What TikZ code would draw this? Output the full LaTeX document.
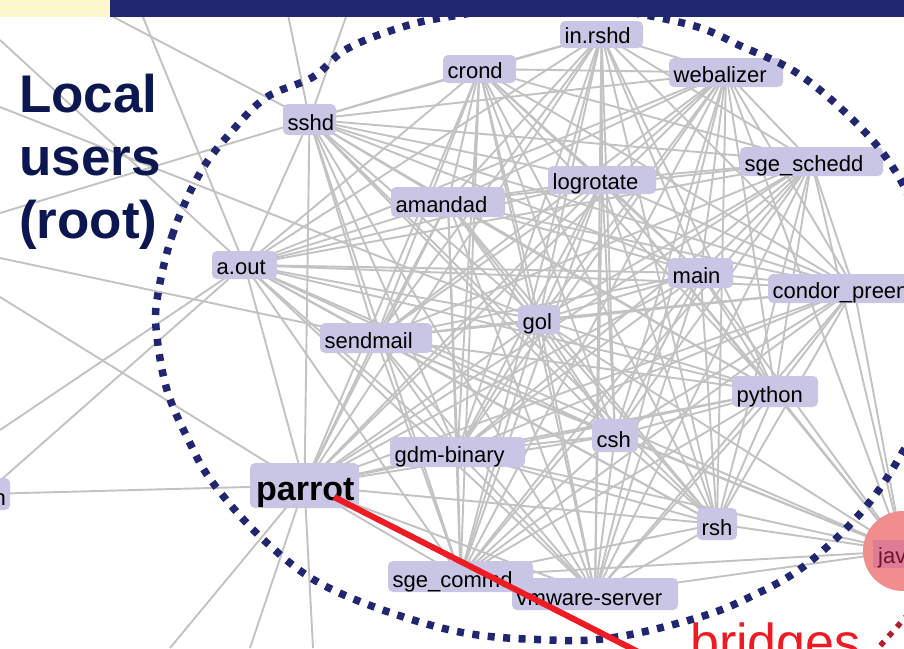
\documentclass[tikz,border=0pt]{standalone}
\usepackage{fontspec}
\setmainfont{Liberation Sans}
\pgfdeclarelayer{background}
\pgfsetlayers{background,main}
\definecolor{procfill}{RGB}{200,198,228}
\definecolor{edgegray}{RGB}{194,194,194}
\definecolor{navy}{RGB}{33,38,112}
\definecolor{titleblue}{RGB}{12,22,80}
\definecolor{bridgered}{RGB}{237,28,36}
\definecolor{javafill}{RGB}{240,142,142}
\definecolor{javalabel}{RGB}{222,124,152}
\definecolor{javatext}{RGB}{110,20,40}
\definecolor{ringred}{RGB}{180,30,40}
\definecolor{paleyellow}{RGB}{253,246,214}

\tikzset{
  procbox/.style={fill=procfill, draw=none, rounded corners=5pt, inner sep=0pt},
  proclabel/.style={anchor=base west, inner sep=0pt, text=black,
    font=\fontsize{22}{26}\selectfont},
  edge/.style={edgegray, line width=1.9pt},
  dotring/.style={navy, line width=7.5pt, dash pattern=on 7pt off 8.5pt},
  bridgeline/.style={bridgered, line width=6pt},
}

% box from (x1,y1) to (x2,y2) with its label set on a common baseline
\newcommand{\procnode}[6]{%
  \node[procbox, minimum width={#4-#2}, minimum height={#5-#3}] (#1)
    at ({(#2+#4)/2},{(#3+#5)/2}) {};
  \node[proclabel] (#1-label) at ({#2+4.5},{#5-5}) {#6};
}

\begin{document}
\begin{tikzpicture}[x=1pt,y=-1pt]
\useasboundingbox (0,0) rectangle (904,648);
\clip (0,0) rectangle (904,648);

% process nodes
\procnode{inrshd}{560}{21}{643}{48}{in.rshd}
\procnode{crond}{443}{55}{516}{83}{crond}
\procnode{webal}{669}{58}{783}{87}{webalizer}
\procnode{sshd}{283}{104}{336}{135}{sshd}
\procnode{schedd}{740}{147}{883}{176}{sge\_schedd}
\procnode{logrot}{548}{166}{656}{194}{logrotate}
\procnode{amanda}{391}{187}{505}{217}{amandad}
\procnode{aout}{212}{251}{277}{279}{a.out}
\procnode{main}{668}{258}{733}{288}{main}
\procnode{condor}{768}{274}{940}{303}{condor\_preen}
\procnode{gol}{518}{305}{560}{334}{gol}
\procnode{sendm}{320}{323}{432}{353}{sendmail}
\procnode{python}{732}{376}{818}{407}{python}
\procnode{csh}{592}{419}{638}{452}{csh}
\procnode{gdm}{390}{437}{525}{467}{gdm-binary}
\procnode{rsh}{697}{508}{737}{540}{rsh}
\procnode{commd}{388}{561}{533}{592}{sge\_commd}
\procnode{vmware}{512}{578}{678}{610}{vmware-server}

% a process just past the left edge
\node[procbox, minimum width=50, minimum height=32] (hnode) at (-15,494) {};
\node[anchor=base east, inner sep=0pt, text=black, font=\fontsize{22}{26}\selectfont]
  (hnode-label) at (6,505) {ssh};

% parrot, set larger and bold
\node[procbox, minimum width=109, minimum height=45] (parrot) at (304.5,485.5) {};
\node[anchor=base west, inner sep=0pt, font=\bfseries\fontsize{34}{40}\selectfont]
  (parrot-label) at (256,500) {parrot};

% java, the bridging process
\node[circle, fill=javafill, minimum size=80, inner sep=0pt] (java) at (903,551) {};
\node[fill=javalabel, anchor=west, minimum width=50, minimum height=28, inner sep=0pt]
  (java-box) at (873,554) {};
\node[anchor=base west, inner sep=0pt, text=javatext, font=\fontsize{22}{26}\selectfont]
  (java-label) at (878,563) {java};

% loose ends of edges leaving the view
\coordinate (e1) at (100,10);
\coordinate (e2) at (285,0);
\coordinate (e3) at (352,0);
\coordinate (e4) at (0,213);
\coordinate (e5) at (136,0);
\coordinate (e6) at (0,40);
\coordinate (e7) at (0,430);
\coordinate (e8) at (0,297);
\coordinate (e9) at (170,648);
\coordinate (e10) at (250,648);
\coordinate (e11) at (313,648);
\coordinate (e12) at (0,258);
\coordinate (e13) at (0,107);

\begin{pgfonlayer}{background}
  \foreach [count=\i] \a in {inrshd,crond,webal,sshd,schedd,logrot,amanda,aout,main,condor,gol,sendm,python,csh,gdm,parrot,rsh,commd,vmware}{
    \foreach [count=\j] \b in {inrshd,crond,webal,sshd,schedd,logrot,amanda,aout,main,condor,gol,sendm,python,csh,gdm,parrot,rsh,commd,vmware}{
      \ifnum\j>\i \draw[edge] (\a.center) -- (\b.center); \fi
    }
  }
  \foreach \a in {rsh,python,csh,main,condor,schedd,gdm,vmware,commd,gol,logrot,webal,sendm,aout}
    \draw[edge] (java.center) -- (\a.center);
  \foreach \n/\e in {sshd/e1,sshd/e2,sshd/e3,sshd/e4,aout/e5,aout/e6,aout/e7,parrot/e8,
                     parrot/e9,parrot/e10,parrot/e11,sendm/e12,gol/e13,hnode/aout,hnode/parrot}
    \draw[edge] (\n.center) -- (\e);
\end{pgfonlayer}

% dotted ring round the local users
\draw[dotring] plot[smooth cycle, tension=0.6] coordinates {
  (157,300) (172,236) (200,173) (233,130) (267,97) (313,77) (345,50) (393,30)
  (447,17) (560,4) (683,23) (743,47) (797,73) (850,117) (890,163) (915,215)
  (935,310) (920,410) (895,465) (857,517) (803,567) (750,597) (700,617)
  (617,637) (550,640) (450,630) (333,590) (267,543) (213,483) (187,437)
  (167,390) (157,337)};

% second ring around the bridge
\coordinate (r1) at (872,655);
\coordinate (r2) at (912,610);
\draw[ringred, line width=5.5pt, dash pattern=on 5.5pt off 7pt] (r1) -- (r2);

% the bridge from parrot
\coordinate (bstart) at (334,497);
\coordinate (bend) at (660,663);
\draw[bridgeline] (bstart) -- (bend);

\node[anchor=base west, inner sep=0pt, text=bridgered, font=\fontsize{52}{60}\selectfont]
  (bridges) at (690,660) {bridges};

\node[anchor=north west, inner sep=0pt, align=left, text=titleblue,
  font=\bfseries\fontsize{53}{63}\selectfont] (title) at (19,74) {Local\\users\\(root)};

% slide title bar
\fill[paleyellow] (0,0) rectangle (110,17);
\foreach \y in {1.5,8,14.5}
  \draw[yellow!30, line width=1.5pt] (0,\y) -- (110,\y);
\fill[navy] (110,0) rectangle (904,17);
\end{tikzpicture}
\end{document}
